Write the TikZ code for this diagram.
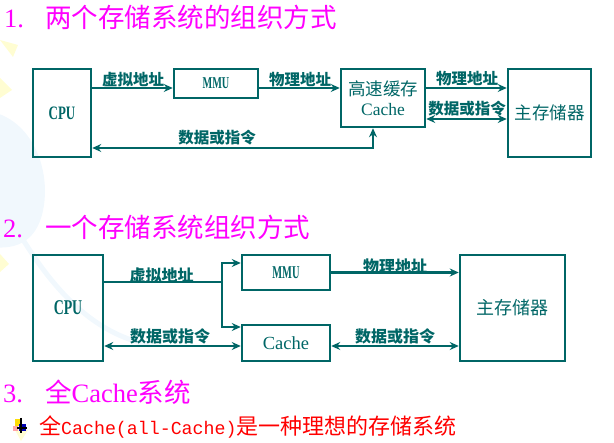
\documentclass[tikz,border=0pt]{standalone}
\usepackage{graphicx}
\usepackage{fontspec}
\setmainfont{Liberation Serif}
\newfontfamily\zhfont{Noto Sans CJK SC}
\newfontfamily\halfmono[Scale=0.83]{Liberation Mono}
\usetikzlibrary{arrows.meta,positioning}
\definecolor{slteal}{HTML}{006666}
\definecolor{slmagenta}{HTML}{FF00FF}
\definecolor{slred}{HTML}{FF0000}
\definecolor{slsky}{HTML}{F1F8FD}
\definecolor{slcream}{HTML}{FFFDD2}
\newcommand{\Zh}[1]{{\zhfont #1}}
\newcommand{\Narrow}[2]{\scalebox{#1}[1]{#2}}
\tikzset{
  unitbox/.style={draw=slteal,line width=2.5pt,text=slteal,inner sep=0pt,
    align=center,font=\fontsize{17.5}{21}\selectfont},
  bus/.style={draw=slteal,line width=2.5pt,
    -{Stealth[length=9pt,width=8pt,inset=3pt]}},
  busboth/.style={bus,{Stealth[length=9pt,width=8pt,inset=3pt]}-{Stealth[length=9pt,width=8pt,inset=3pt]}},
  busline/.style={draw=slteal,line width=2.5pt},
  buslabel/.style={text=slteal,inner sep=0pt,font=\fontsize{15.5}{16}\zhfont\bfseries},
  heading/.style={anchor=west,inner sep=0pt,text=slmagenta,
    font=\fontsize{26.5}{28}\selectfont},
}

\begin{document}
\begin{tikzpicture}[x=1pt,y=-1pt]
\useasboundingbox (0,0) rectangle (614,443);
% faint backdrop
\fill[slsky] (-40,112) .. controls (25,98) and (55,165) .. (42,215)
  .. controls (30,258) and (-10,250) .. (-40,238) -- cycle;
\draw[slsky,line width=5pt] (22,238) .. controls (60,300) and (100,335) .. (150,345);
\fill[slcream] (0,40) -- (18,45) -- (13,57) -- cycle;
\fill[slcream] (0,78) -- (12,90) -- (0,98) -- cycle;
\fill[slcream] (0,254) -- (9,264) -- (0,272) -- cycle;

% 1. two storage systems
\node[heading] (headA) at (4,17.5) {\makebox[41pt][l]{1.}\Zh{两个存储系统的组织方式}};
\node[unitbox,minimum width=58,minimum height=88,font=\fontsize{19}{19}\bfseries]
  (cpuA) at (62,113) {\Narrow{0.68}{CPU}};
\node[unitbox,minimum width=84,minimum height=29,font=\fontsize{16.5}{16.5}\bfseries]
  (mmuA) at (216,83.5) {\Narrow{0.62}{MMU}};
\node[unitbox,minimum width=84,minimum height=58] (cacheA) at (383,98)
  {\Zh{高速缓存}\\[-1pt]Cache};
\node[unitbox,minimum width=83,minimum height=88] (memA) at (549.5,113) {\Zh{主存储器}};

\coordinate (addrA) at (0,88);
\coordinate (dataA) at (0,119);
\coordinate (backA) at (0,148);
\draw[bus] (cpuA.east |- addrA) -- (mmuA.west |- addrA);
\draw[bus] (mmuA.east |- addrA) -- (cacheA.west |- addrA);
\draw[bus] (cacheA.east |- addrA) -- (memA.west |- addrA);
\draw[busboth] (cacheA.east |- dataA) -- (memA.west |- dataA);
\draw[busboth] (cpuA.east |- backA) -| ([xshift=-10pt]cacheA.south);

\node[buslabel] (vaddrA) at (133,80) {虚拟地址};
\node[buslabel] (paddrA) at (300,80) {物理地址};
\node[buslabel] (paddrM) at (467,79) {物理地址};
\node[buslabel] (dataM) at (467,108.5) {数据或指令};
\node[buslabel] (dataC) at (217,137.5) {数据或指令};

% 2. one storage system
\node[heading] (headB) at (3,227.5) {\makebox[42pt][l]{2.}\Zh{一个存储系统组织方式}};
\node[unitbox,minimum width=70,minimum height=106,font=\fontsize{21}{21}\bfseries]
  (cpuB) at (68,308) {\Narrow{0.66}{CPU}};
\node[unitbox,minimum width=88,minimum height=35,font=\fontsize{18}{18}\bfseries]
  (mmuB) at (286,272.5) {\Narrow{0.58}{MMU}};
\node[unitbox,minimum width=88,minimum height=36,font=\fontsize{18.5}{18.5}\selectfont]
  (cacheB) at (286,343) {Cache};
\node[unitbox,minimum width=105,minimum height=106,font=\fontsize{18}{21}\selectfont]
  (memB) at (512.5,308) {\Zh{主存储器}};

\coordinate (forkB) at (222,282);
\coordinate (toMmuB) at (0,263);
\coordinate (toCacheB) at (0,327);
\coordinate (dataB) at (0,346);
\draw[busline] (cpuB.east |- forkB) -- (forkB);
\draw[bus] (forkB) |- (mmuB.west |- toMmuB);
\draw[bus] (forkB) |- (cacheB.west |- toCacheB);
\draw[busboth] (cpuB.east |- dataB) -- (cacheB.west |- dataB);
\draw[bus] (mmuB.east) -- (memB.west |- mmuB.east);
\draw[busboth] (cacheB.east |- dataB) -- (memB.west |- dataB);

\node[buslabel,font=\fontsize{16}{16}\zhfont\bfseries] (vaddrB) at (161.5,275) {虚拟地址};
\node[buslabel,font=\fontsize{16}{16}\zhfont\bfseries] (dataB1) at (170,336) {数据或指令};
\node[buslabel,font=\fontsize{16}{16}\zhfont\bfseries] (paddrB) at (395,266.5) {物理地址};
\node[buslabel,font=\fontsize{16}{16}\zhfont\bfseries] (dataB2) at (395,336) {数据或指令};

% 3. all-Cache
\node[heading] (headC) at (3,392) {\makebox[42pt][l]{3.}\Zh{全}Cache\Zh{系统}};
\fill[slcream] (15,430) -- (28,430) -- (21,441) -- cycle;
\fill[yellow!80!orange] (15,419) rectangle (22,426);
\fill[red!35] (13,426) rectangle (18,431);
\fill[blue!70!black] (19,424) rectangle (26,431);
\draw[black,line width=1.2pt] (21,418) -- (21,433) (17,428) -- (27,428);
\node[anchor=west,inner sep=0pt,text=slred,font=\fontsize{22}{24}\selectfont]
  (pointC) at (39,427) {\Zh{全}{\halfmono Cache(all-Cache)}\Zh{是一种理想的存储系统}};
\end{tikzpicture}
\end{document}
